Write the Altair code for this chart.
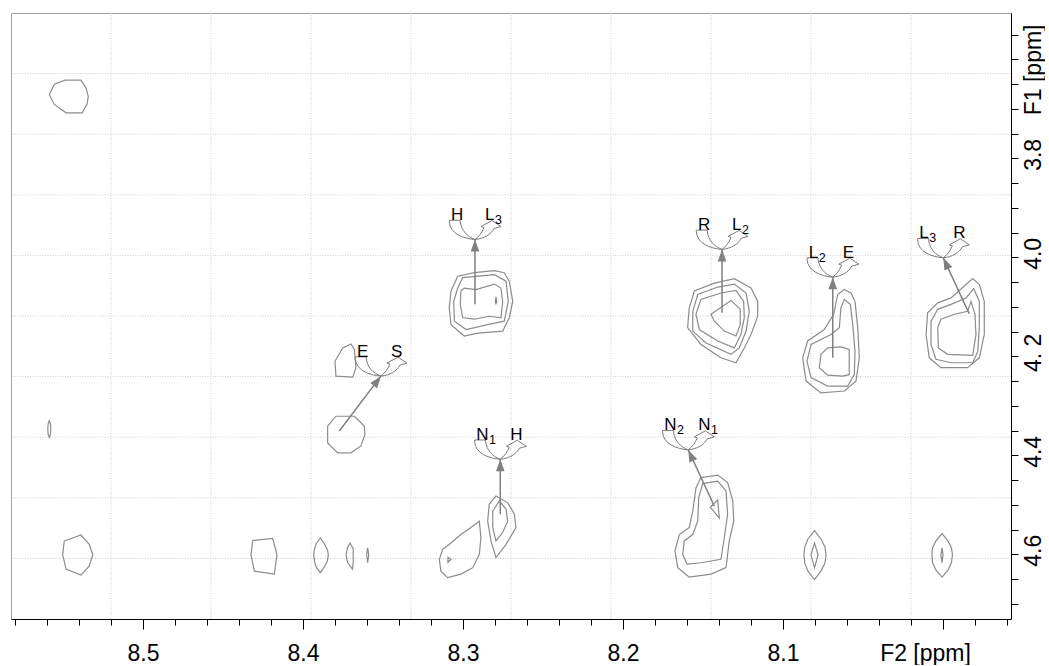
import math
import altair as alt
import pandas as pd

# ---------------- axis ranges and ticks (ppm) ----------------
F2_DOMAIN = [7.9575, 8.5825]
F1_DOMAIN = [3.5063, 4.7307]
F2_TICKS = [7.96, 7.98, 8.00, 8.02, 8.04, 8.06, 8.08, 8.10, 8.12, 8.14, 8.16, 8.18,
            8.20, 8.22, 8.24, 8.26, 8.28, 8.30, 8.32, 8.34, 8.36, 8.38, 8.40, 8.42,
            8.44, 8.46, 8.48, 8.50, 8.52, 8.54, 8.56, 8.58]
F1_TICKS = [3.55, 3.60, 3.65, 3.70, 3.75, 3.80, 3.85, 3.90, 3.95, 4.00, 4.05, 4.10,
            4.15, 4.20, 4.25, 4.30, 4.35, 4.40, 4.45, 4.50, 4.55, 4.60, 4.65, 4.70]

# ---------------- contour lines (F2 ppm, F1 ppm) ----------------
A1 = [(8.5586, 3.671), (8.5554, 3.650), (8.5488, 3.642), (8.5388, 3.642), (8.5356, 3.658),
      (8.5342, 3.675), (8.5350, 3.691), (8.5381, 3.708), (8.5481, 3.708), (8.5554, 3.691)]
B1 = [(8.5586, 4.330), (8.5578, 4.337), (8.5576, 4.347), (8.5578, 4.357), (8.5586, 4.364),
      (8.5593, 4.357), (8.5595, 4.347), (8.5593, 4.337)]
C1 = [(8.5492, 4.573), (8.5388, 4.561), (8.5336, 4.580), (8.5314, 4.601), (8.5336, 4.624),
      (8.5388, 4.642), (8.5481, 4.630), (8.5502, 4.601)]
D1 = [(8.4314, 4.572), (8.4189, 4.568), (8.4163, 4.601), (8.4179, 4.640), (8.4304, 4.634),
      (8.4325, 4.601)]
E1 = [(8.3892, 4.567), (8.3866, 4.579), (8.3847, 4.591), (8.3842, 4.601), (8.3847, 4.613),
      (8.3866, 4.625), (8.3892, 4.637), (8.3919, 4.625), (8.3929, 4.613), (8.3933, 4.601),
      (8.3929, 4.591), (8.3919, 4.579)]
F1C = [(8.3706, 4.577), (8.3722, 4.587), (8.3731, 4.601), (8.3722, 4.616), (8.3691, 4.630),
       (8.3686, 4.616), (8.3686, 4.589)]
G1 = [(8.3596, 4.587), (8.3589, 4.601), (8.3596, 4.617), (8.3602, 4.601)]
H1 = [(8.3846, 4.341), (8.3794, 4.321), (8.3679, 4.321), (8.3617, 4.341), (8.3613, 4.358),
      (8.3638, 4.381), (8.3700, 4.395), (8.3783, 4.395), (8.3846, 4.375)]
I1 = [(8.3800, 4.210), (8.3752, 4.183), (8.3700, 4.175), (8.3679, 4.186), (8.3669, 4.223),
      (8.3689, 4.242), (8.3794, 4.240)]
J1 = [(8.3075, 4.068), (8.3033, 4.038), (8.2929, 4.031), (8.2804, 4.027), (8.2742, 4.031),
      (8.2711, 4.048), (8.2689, 4.089), (8.2711, 4.122), (8.2752, 4.149), (8.2908, 4.153),
      (8.2992, 4.159), (8.3075, 4.136), (8.3086, 4.102)]
J2 = [(8.3033, 4.062), (8.3002, 4.041), (8.2804, 4.035), (8.2731, 4.048), (8.2717, 4.089),
      (8.2742, 4.129), (8.2846, 4.136), (8.2981, 4.146), (8.3054, 4.129), (8.3058, 4.089)]
J3 = [(8.3013, 4.068), (8.2992, 4.062), (8.2919, 4.065), (8.2804, 4.054), (8.2763, 4.062),
      (8.2752, 4.089), (8.2763, 4.122), (8.2836, 4.119), (8.2929, 4.125), (8.3002, 4.122),
      (8.3017, 4.095)]
J4 = [(8.2794, 4.080), (8.2789, 4.089), (8.2794, 4.095), (8.2798, 4.089)]
K1 = [(8.2794, 4.482), (8.2836, 4.499), (8.2846, 4.533), (8.2825, 4.573), (8.2794, 4.607),
      (8.2731, 4.580), (8.2669, 4.546), (8.2679, 4.519), (8.2719, 4.496)]
K2 = [(8.2773, 4.492), (8.2814, 4.513), (8.2814, 4.546), (8.2794, 4.573), (8.2752, 4.556),
      (8.2721, 4.533), (8.2731, 4.509)]
K3 = [(8.2898, 4.533), (8.2950, 4.546), (8.3013, 4.560), (8.3075, 4.577), (8.3127, 4.590),
      (8.3148, 4.610), (8.3138, 4.634), (8.3096, 4.647), (8.3013, 4.640), (8.2939, 4.627),
      (8.2898, 4.600), (8.2888, 4.567)]
K4 = [(8.3094, 4.606), (8.3075, 4.610), (8.3094, 4.616)]
L1 = [(8.1586, 4.102), (8.1554, 4.068), (8.1429, 4.052), (8.1304, 4.043), (8.1200, 4.062),
      (8.1158, 4.089), (8.1158, 4.119), (8.1200, 4.156), (8.1242, 4.183), (8.1294, 4.213),
      (8.1388, 4.203), (8.1513, 4.176), (8.1596, 4.142)]
L2 = [(8.1564, 4.109), (8.1533, 4.075), (8.1408, 4.060), (8.1304, 4.054), (8.1231, 4.072),
      (8.1211, 4.109), (8.1231, 4.149), (8.1273, 4.183), (8.1325, 4.196), (8.1481, 4.173),
      (8.1564, 4.149)]
L3 = [(8.1544, 4.115), (8.1513, 4.085), (8.1388, 4.072), (8.1294, 4.067), (8.1246, 4.089),
      (8.1242, 4.122), (8.1263, 4.156), (8.1304, 4.183), (8.1408, 4.169), (8.1523, 4.146)]
L4 = [(8.1450, 4.115), (8.1377, 4.099), (8.1325, 4.087), (8.1267, 4.105), (8.1267, 4.136),
      (8.1294, 4.159), (8.1367, 4.149), (8.1429, 4.129)]
M1 = [(8.0617, 4.065), (8.0658, 4.075), (8.0683, 4.115), (8.0742, 4.146), (8.0846, 4.169),
      (8.0877, 4.203), (8.0856, 4.250), (8.0763, 4.274), (8.0617, 4.270), (8.0544, 4.250),
      (8.0523, 4.203), (8.0533, 4.142), (8.0550, 4.089), (8.0575, 4.072)]
M2 = [(8.0617, 4.085), (8.0638, 4.102), (8.0648, 4.142), (8.0700, 4.156), (8.0825, 4.176),
      (8.0850, 4.210), (8.0825, 4.243), (8.0721, 4.260), (8.0596, 4.260), (8.0554, 4.237),
      (8.0550, 4.190), (8.0564, 4.136), (8.0579, 4.095)]
M3 = [(8.0763, 4.196), (8.0721, 4.183), (8.0638, 4.181), (8.0586, 4.186), (8.0586, 4.237),
      (8.0627, 4.240), (8.0721, 4.238), (8.0773, 4.223)]
N1C = [(7.9814, 4.043), (7.9867, 4.058), (7.9950, 4.082), (8.0033, 4.092), (8.0096, 4.112),
       (8.0106, 4.156), (8.0086, 4.203), (8.0013, 4.223), (7.9846, 4.223), (7.9773, 4.203),
       (7.9742, 4.156), (7.9742, 4.089), (7.9773, 4.055)]
N2C = [(7.9808, 4.063), (7.9856, 4.082), (7.9950, 4.095), (8.0033, 4.105), (8.0075, 4.129),
       (8.0075, 4.176), (8.0044, 4.206), (7.9950, 4.213), (7.9814, 4.213), (7.9783, 4.190),
       (7.9773, 4.142), (7.9773, 4.089)]
N3C = [(7.9825, 4.089), (7.9846, 4.109), (7.9929, 4.115), (8.0013, 4.125), (8.0033, 4.142),
       (8.0029, 4.183), (7.9971, 4.196), (7.9814, 4.198), (7.9794, 4.156), (7.9800, 4.115)]
O1 = [(8.1513, 4.445), (8.1408, 4.440), (8.1346, 4.455), (8.1314, 4.492), (8.1308, 4.533),
      (8.1336, 4.573), (8.1356, 4.627), (8.1450, 4.640), (8.1586, 4.646), (8.1658, 4.627),
      (8.1675, 4.593), (8.1648, 4.560), (8.1586, 4.546), (8.1564, 4.513), (8.1544, 4.466)]
O2 = [(8.1502, 4.457), (8.1408, 4.452), (8.1356, 4.472), (8.1346, 4.519), (8.1367, 4.567),
      (8.1388, 4.610), (8.1513, 4.617), (8.1600, 4.620), (8.1627, 4.600), (8.1617, 4.573),
      (8.1564, 4.560), (8.1533, 4.533), (8.1527, 4.486)]
O3 = [(8.1454, 4.505), (8.1408, 4.490), (8.1398, 4.527)]
P1 = [(8.0803, 4.552), (8.0763, 4.569), (8.0738, 4.585), (8.0731, 4.601), (8.0738, 4.618),
      (8.0763, 4.634), (8.0803, 4.651), (8.0844, 4.634), (8.0864, 4.618), (8.0869, 4.601),
      (8.0864, 4.585), (8.0844, 4.569)]
P2 = [(8.0803, 4.577), (8.0781, 4.601), (8.0803, 4.627), (8.0825, 4.601)]
Q1 = [(8.0006, 4.558), (7.9969, 4.573), (7.9947, 4.587), (7.9941, 4.601), (7.9947, 4.616),
      (7.9969, 4.632), (8.0006, 4.646), (8.0044, 4.632), (8.0066, 4.616), (8.0069, 4.601),
      (8.0066, 4.587), (8.0044, 4.573)]
Q2 = [(8.0006, 4.587), (8.0000, 4.601), (8.0006, 4.617), (8.0013, 4.601)]

CONTOURS = [A1, B1, C1, D1, E1, F1C, G1, H1, I1, J1, J2, J3, J4, K1, K2, K3, K4,
            L1, L2, L3, L4, M1, M2, M3, N1C, N2C, N3C, O1, O2, O3, P1, P2, Q1, Q2]

# ---------------- assignment annotations ----------------
ANN_PEAK_F2 = [8.3773, 8.2925, 8.2767, 8.1381, 8.0689, 7.9836, 8.1429]
ANN_PEAK_F1 = [4.351, 4.095, 4.519, 4.112, 4.203, 4.114, 4.503]
ANN_SYM_F2 = [8.3513, 8.2925, 8.2767, 8.1381, 8.0689, 7.9998, 8.1592]
ANN_SYM_F1 = [4.240, 3.964, 4.408, 3.984, 4.040, 4.001, 4.389]
ANN_LEFT = ["E", "H", "N", "R", "L", "L", "N"]
ANN_LEFT_SUB = ["", "", "1", "", "2", "3", "2"]
ANN_RIGHT = ["S", "L", "H", "L", "E", "R", "N"]
ANN_RIGHT_SUB = ["", "3", "", "2", "", "", "1"]

# ---------------- layout / style ----------------
W, H = 1000, 606
FONT = "Liberation Sans"
GREY = "#8c8c8c"
ARROW = "#808080"

xs = alt.Scale(domain=F2_DOMAIN, reverse=True, nice=False, zero=False)
ys = alt.Scale(domain=F1_DOMAIN, reverse=True, nice=False, zero=False)

is_major_x = "abs(datum.value*10-round(datum.value*10))<0.001"
x_axis = alt.Axis(
    orient="bottom", values=F2_TICKS, grid=False, title=None,
    labelExpr=f"{is_major_x} ? (abs(datum.value-8)<0.001 ? 'F2 [ppm]' : format(datum.value,'.1f')) : ''",
    tickSize={"condition": {"test": is_major_x, "value": 10}, "value": 6},
    labelOffset={"condition": {"test": "abs(datum.value-8)<0.001", "value": -18}, "value": 0},
    tickColor="black", domainColor="black", labelColor="black",
    labelFont=FONT, labelFontSize=23, labelPadding=13, labelAngle=0,
    labelAlign="center", labelBaseline="top", labelOverlap=False,
    labelFlush=False, labelBound=False,
)
is_label_y = "abs(datum.value*5-round(datum.value*5))<0.001 && datum.value>3.7"
y_axis = alt.Axis(
    orient="right", values=F1_TICKS, grid=False, title=None,
    labelExpr=f"({is_label_y}) ? (abs(datum.value-4.2)<0.001 ? '4. 2' : format(datum.value,'.1f')) : (abs(datum.value-3.6)<0.001 ? 'F1 [ppm]' : '')",
    labelOffset={"condition": {"test": "abs(datum.value-3.6)<0.001", "value": 10}, "value": -4},
    tickSize=7, tickColor="black", domainColor="black", labelColor="black",
    labelFont=FONT, labelFontSize=23, labelPadding=4, labelAngle=270,
    labelAlign="center", labelBaseline="top", labelOverlap=False,
    labelFlush=False, labelBound=False,
)


def X(field):
    return alt.X(field, type="quantitative", scale=xs, axis=x_axis, title=None)


def Y(field):
    return alt.Y(field, type="quantitative", scale=ys, axis=y_axis, title=None)


rows = []
for cid, pts in enumerate(CONTOURS):
    for k, (px, py) in enumerate(pts):
        rows.append({"cid": cid, "ord": k, "x": px, "y": py})
cdf = pd.DataFrame(rows)

# grid: ten equal divisions of the plot area
gx = [F2_DOMAIN[0] + (F2_DOMAIN[1] - F2_DOMAIN[0]) * i / 10 for i in range(1, 10)]
gy = [F1_DOMAIN[0] + (F1_DOMAIN[1] - F1_DOMAIN[0]) * i / 10 for i in range(1, 10)]
grid_v = alt.Chart(pd.DataFrame({"x": gx})).mark_rule(
    color="#cfcfcf", strokeDash=[1, 1.5], strokeWidth=1
).encode(x=X("x"))
grid_h = alt.Chart(pd.DataFrame({"y": gy})).mark_rule(
    color="#cfcfcf", strokeDash=[1, 1.5], strokeWidth=1
).encode(y=Y("y"))

contours = alt.Chart(cdf).mark_line(
    interpolate="linear-closed", color=GREY, strokeWidth=1.2
).encode(x=X("x"), y=Y("y"), detail="cid:N", order="ord:Q")

# annotation table
xppm = W / (F2_DOMAIN[1] - F2_DOMAIN[0])
yppm = H / (F1_DOMAIN[1] - F1_DOMAIN[0])
adf = pd.DataFrame({
    "x0": ANN_PEAK_F2, "y0": ANN_PEAK_F1, "x1": ANN_SYM_F2, "y1": ANN_SYM_F1,
})
adf["ang"] = [
    (math.degrees(math.atan2(-(b - a) * xppm, -(d - c) * yppm)) + 360) % 360
    for a, b, c, d in zip(adf.x0, adf.x1, adf.y0, adf.y1)
]

arrows = alt.Chart(adf).mark_rule(color=ARROW, strokeWidth=1.5).encode(
    x=X("x0"), y=Y("y0"), x2="x1:Q", y2="y1:Q",
)
heads = alt.Chart(adf).mark_point(
    shape="M0,0L0.36,1L-0.36,1Z", size=576, filled=True, color=ARROW, opacity=1
).encode(x=X("x1"), y=Y("y1"), angle=alt.Angle("ang:Q", scale=None))
SYM = ("M-0.988,-0.742L-0.565,-0.742L-0.565,-0.681"
       "C-0.519,-0.346,-0.308,-0.115,0,0"
       "C-0.462,-0.038,-0.962,-0.231,-0.988,-0.681Z"
       "M0,0C0.154,-0.115,0.269,-0.269,0.346,-0.462"
       "L0.231,-0.5L0.654,-0.731L1,-0.5L0.731,-0.423"
       "C0.615,-0.192,0.346,-0.038,0,0Z")
symbols = alt.Chart(adf).mark_point(
    shape=SYM, size=2704, filled=False, color="#7a7a7a", strokeWidth=1, opacity=1
).encode(x=X("x1"), y=Y("y1"))

# labels (letters + subscripts)
EM = {"L": 0.556, "N": 0.722, "H": 0.722, "E": 0.667, "R": 0.722, "S": 0.667}
MAIN_FS, SUB_FS = 17, 12.5
lab_rows = []
for i in range(len(ANN_SYM_F2)):
    for base, letter, sub in ((-24, ANN_LEFT[i], ANN_LEFT_SUB[i]),
                              (10, ANN_RIGHT[i], ANN_RIGHT_SUB[i])):
        lab_rows.append({"x": ANN_SYM_F2[i], "y": ANN_SYM_F1[i], "t": letter,
                         "kind": "main", "dx": base})
        if sub:
            lab_rows.append({"x": ANN_SYM_F2[i], "y": ANN_SYM_F1[i], "t": sub,
                             "kind": "sub",
                             "dx": round(base + EM[letter] * MAIN_FS + 0.5, 1)})
ldf = pd.DataFrame(lab_rows)
text_layers = []
for (kind, dx), g in ldf.groupby(["kind", "dx"]):
    text_layers.append(
        alt.Chart(g).mark_text(
            align="left", baseline="alphabetic", font=FONT, color="black",
            fontSize=MAIN_FS if kind == "main" else SUB_FS,
            dx=float(dx), dy=-19.5 if kind == "main" else -15.5,
        ).encode(x=X("x"), y=Y("y"), text="t:N")
    )

chart = alt.layer(grid_v, grid_h, contours, arrows, heads, symbols, *text_layers).properties(
    width=W, height=H,
    padding={"left": 10, "top": 12, "right": 0, "bottom": 0},
    background="white",
).configure_view(stroke="#a0a0a0", strokeWidth=1)

chart.save("out.html", embed_options={"renderer": "svg", "actions": False})
